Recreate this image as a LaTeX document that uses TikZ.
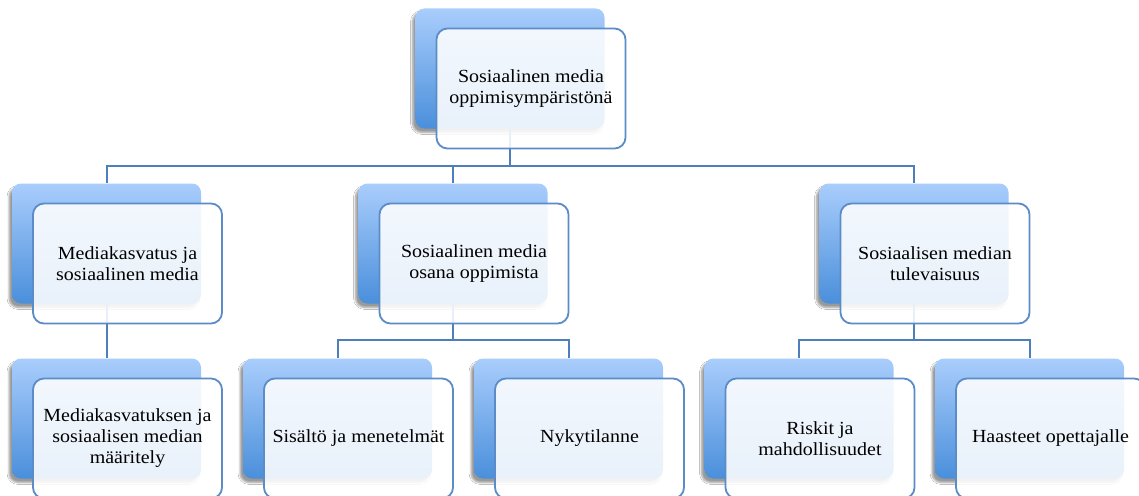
\documentclass[tikz,border=0pt]{standalone}
\usepackage{fontspec}
\setmainfont[FakeStretch=1.08]{Liberation Serif}
\usetikzlibrary{shadows.blur}
\definecolor{backtop}{HTML}{A9CDFC}
\definecolor{backbot}{HTML}{4A8FDB}
\definecolor{boxline}{HTML}{5B8CC8}
\definecolor{linkline}{HTML}{4F7FBA}
\begin{document}
\begin{tikzpicture}[x=1pt, y=-1pt,
  back/.style={shape=rectangle, rounded corners=9pt, minimum width=189pt,
    minimum height=120pt, top color=backtop, bottom color=backbot,
    blur shadow={shadow xshift=-3pt, shadow yshift=-4pt,
      shadow blur steps=6, shadow opacity=40}},
  front/.style={shape=rectangle, rounded corners=11pt, draw=boxline,
    line width=1.8pt, fill=white, fill opacity=0.88, text opacity=1,
    minimum width=189pt, minimum height=120pt, align=center,
    font=\fontsize{18.5}{21}\selectfont},
  link/.style={draw=linkline, line width=2pt}]
\useasboundingbox (0,0) rectangle (1139,495);
\fill[white] (0,0) rectangle (1139,495);
\node (ymp-b) [back] at (510,68.5) {};
\node (mk-b) [back] at (106.5,243.5) {};
\node (osa-b) [back] at (453,243.5) {};
\node (tul-b) [back] at (914,243.5) {};
\node (maar-b) [back] at (106.5,418.5) {};
\node (sis-b) [back] at (337.5,418.5) {};
\node (nyk-b) [back] at (568.5,418.5) {};
\node (ris-b) [back] at (799,418.5) {};
\node (haa-b) [back] at (1029.5,418.5) {};
\draw[link] (ymp-b.south) |- ([yshift=17pt]mk-b.north) -- (mk-b.north);
\draw[link] (ymp-b.south) |- ([yshift=17pt]osa-b.north) -- (osa-b.north);
\draw[link] (ymp-b.south) |- ([yshift=17pt]tul-b.north) -- (tul-b.north);
\draw[link] (mk-b) -- (maar-b);
\draw[link] (osa-b.south) |- ([yshift=18pt]sis-b.north) -- (sis-b.north);
\draw[link] (osa-b.south) |- ([yshift=18pt]nyk-b.north) -- (nyk-b.north);
\draw[link] (tul-b.south) |- ([yshift=18pt]ris-b.north) -- (ris-b.north);
\draw[link] (tul-b.south) |- ([yshift=18pt]haa-b.north) -- (haa-b.north);
\node (ymp) [front] at ([shift={(21pt,-20pt)}]ymp-b.center)
  {Sosiaalinen media\\oppimisympäristönä};
\node (mk) [front] at ([shift={(21pt,-20pt)}]mk-b.center)
  {Mediakasvatus ja\\sosiaalinen media};
\node (osa) [front] at ([shift={(21pt,-20pt)}]osa-b.center)
  {Sosiaalinen media\\osana oppimista};
\node (tul) [front] at ([shift={(21pt,-20pt)}]tul-b.center)
  {Sosiaalisen median\\tulevaisuus};
\node (maar) [front] at ([shift={(21pt,-20pt)}]maar-b.center)
  {Mediakasvatuksen ja\\sosiaalisen median\\määritely};
\node (sis) [front] at ([shift={(21pt,-20pt)}]sis-b.center)
  {Sisältö ja menetelmät};
\node (nyk) [front] at ([shift={(21pt,-20pt)}]nyk-b.center)
  {Nykytilanne};
\node (ris) [front] at ([shift={(21pt,-20pt)}]ris-b.center)
  {Riskit ja\\mahdollisuudet};
\node (haa) [front] at ([shift={(21pt,-20pt)}]haa-b.center)
  {Haasteet opettajalle};
\end{tikzpicture}
\end{document}
